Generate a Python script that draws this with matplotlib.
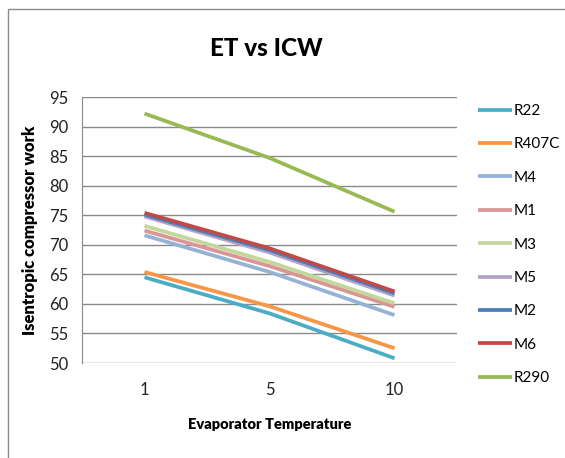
import matplotlib.pyplot as plt
from matplotlib.patches import Rectangle

plt.rcParams['font.family'] = ['Lato', 'DejaVu Sans']

temps = ['1', '5', '10']
series = ['R22', 'R407C', 'M4', 'M1', 'M3', 'M5', 'M2', 'M6', 'R290']
r22 = [64.5, 58.4, 50.8]
r407c = [65.4, 59.6, 52.5]
m4 = [71.6, 65.4, 58.1]
m1 = [72.4, 66.4, 59.5]
m3 = [73.2, 67.1, 60.1]
m5 = [74.8, 68.7, 61.4]
m2 = [75.1, 69.1, 61.8]
m6 = [75.4, 69.4, 62.1]
r290 = [92.2, 84.7, 75.6]
values = [r22, r407c, m4, m1, m3, m5, m2, m6, r290]
colors = ['#4BACC6', '#F79646', '#95B3D7', '#D99694', '#C3D69B',
          '#B3A2C7', '#4A7EBB', '#BE4B48', '#98B954']

fig = plt.figure(figsize=(5.65, 4.58), dpi=100)
fig.patches.append(Rectangle((8 / 565, -0.1), 1.2, 1 - 9 / 458 + 0.1,
                             transform=fig.transFigure, fill=False,
                             edgecolor='#8c8c8c', linewidth=1))
ax = fig.add_axes([82 / 565, 95 / 458, 375 / 565, 266 / 458])

x = range(len(temps))
for name, vals, c in zip(series, values, colors):
    ax.plot(x, vals, color=c, linewidth=2.7, label=name, solid_capstyle='butt')

ax.set_xlim(-0.5, 2.5)
ax.set_ylim(50, 95)
ax.set_yticks(range(50, 96, 5))
ax.set_xticks(list(x))
ax.set_xticklabels(temps)
ax.grid(axis='y', color='#8a8a8a', linewidth=1)
ax.set_axisbelow(True)
for s in ['top', 'right', 'bottom']:
    ax.spines[s].set_visible(False)
ax.spines['left'].set_color('#8a8a8a')
ax.tick_params(length=0, labelsize=12, colors='#222222')
ax.tick_params(axis='y', pad=10)
ax.tick_params(axis='x', pad=14)

fig.text(266 / 565, 1 - 48 / 458, 'ET vs ICW', fontsize=17.5, fontweight='black',
         ha='center', va='center')
ax.set_xlabel('Evaporator Temperature', fontsize=10.5, fontweight='heavy', labelpad=14)
ax.set_ylabel('Isentropic compressor work', fontsize=12, fontweight='heavy')
ax.yaxis.set_label_coords((38 - 82) / 375, 0.5)

ax.legend(loc='upper left', bbox_to_anchor=(478 / 565, 1 - 104 / 458),
          bbox_transform=fig.transFigure, frameon=False, fontsize=11,
          handlelength=2.2, handletextpad=0.15, labelspacing=1.27,
          borderpad=0, borderaxespad=0)

fig.savefig('out.png', dpi=100)
